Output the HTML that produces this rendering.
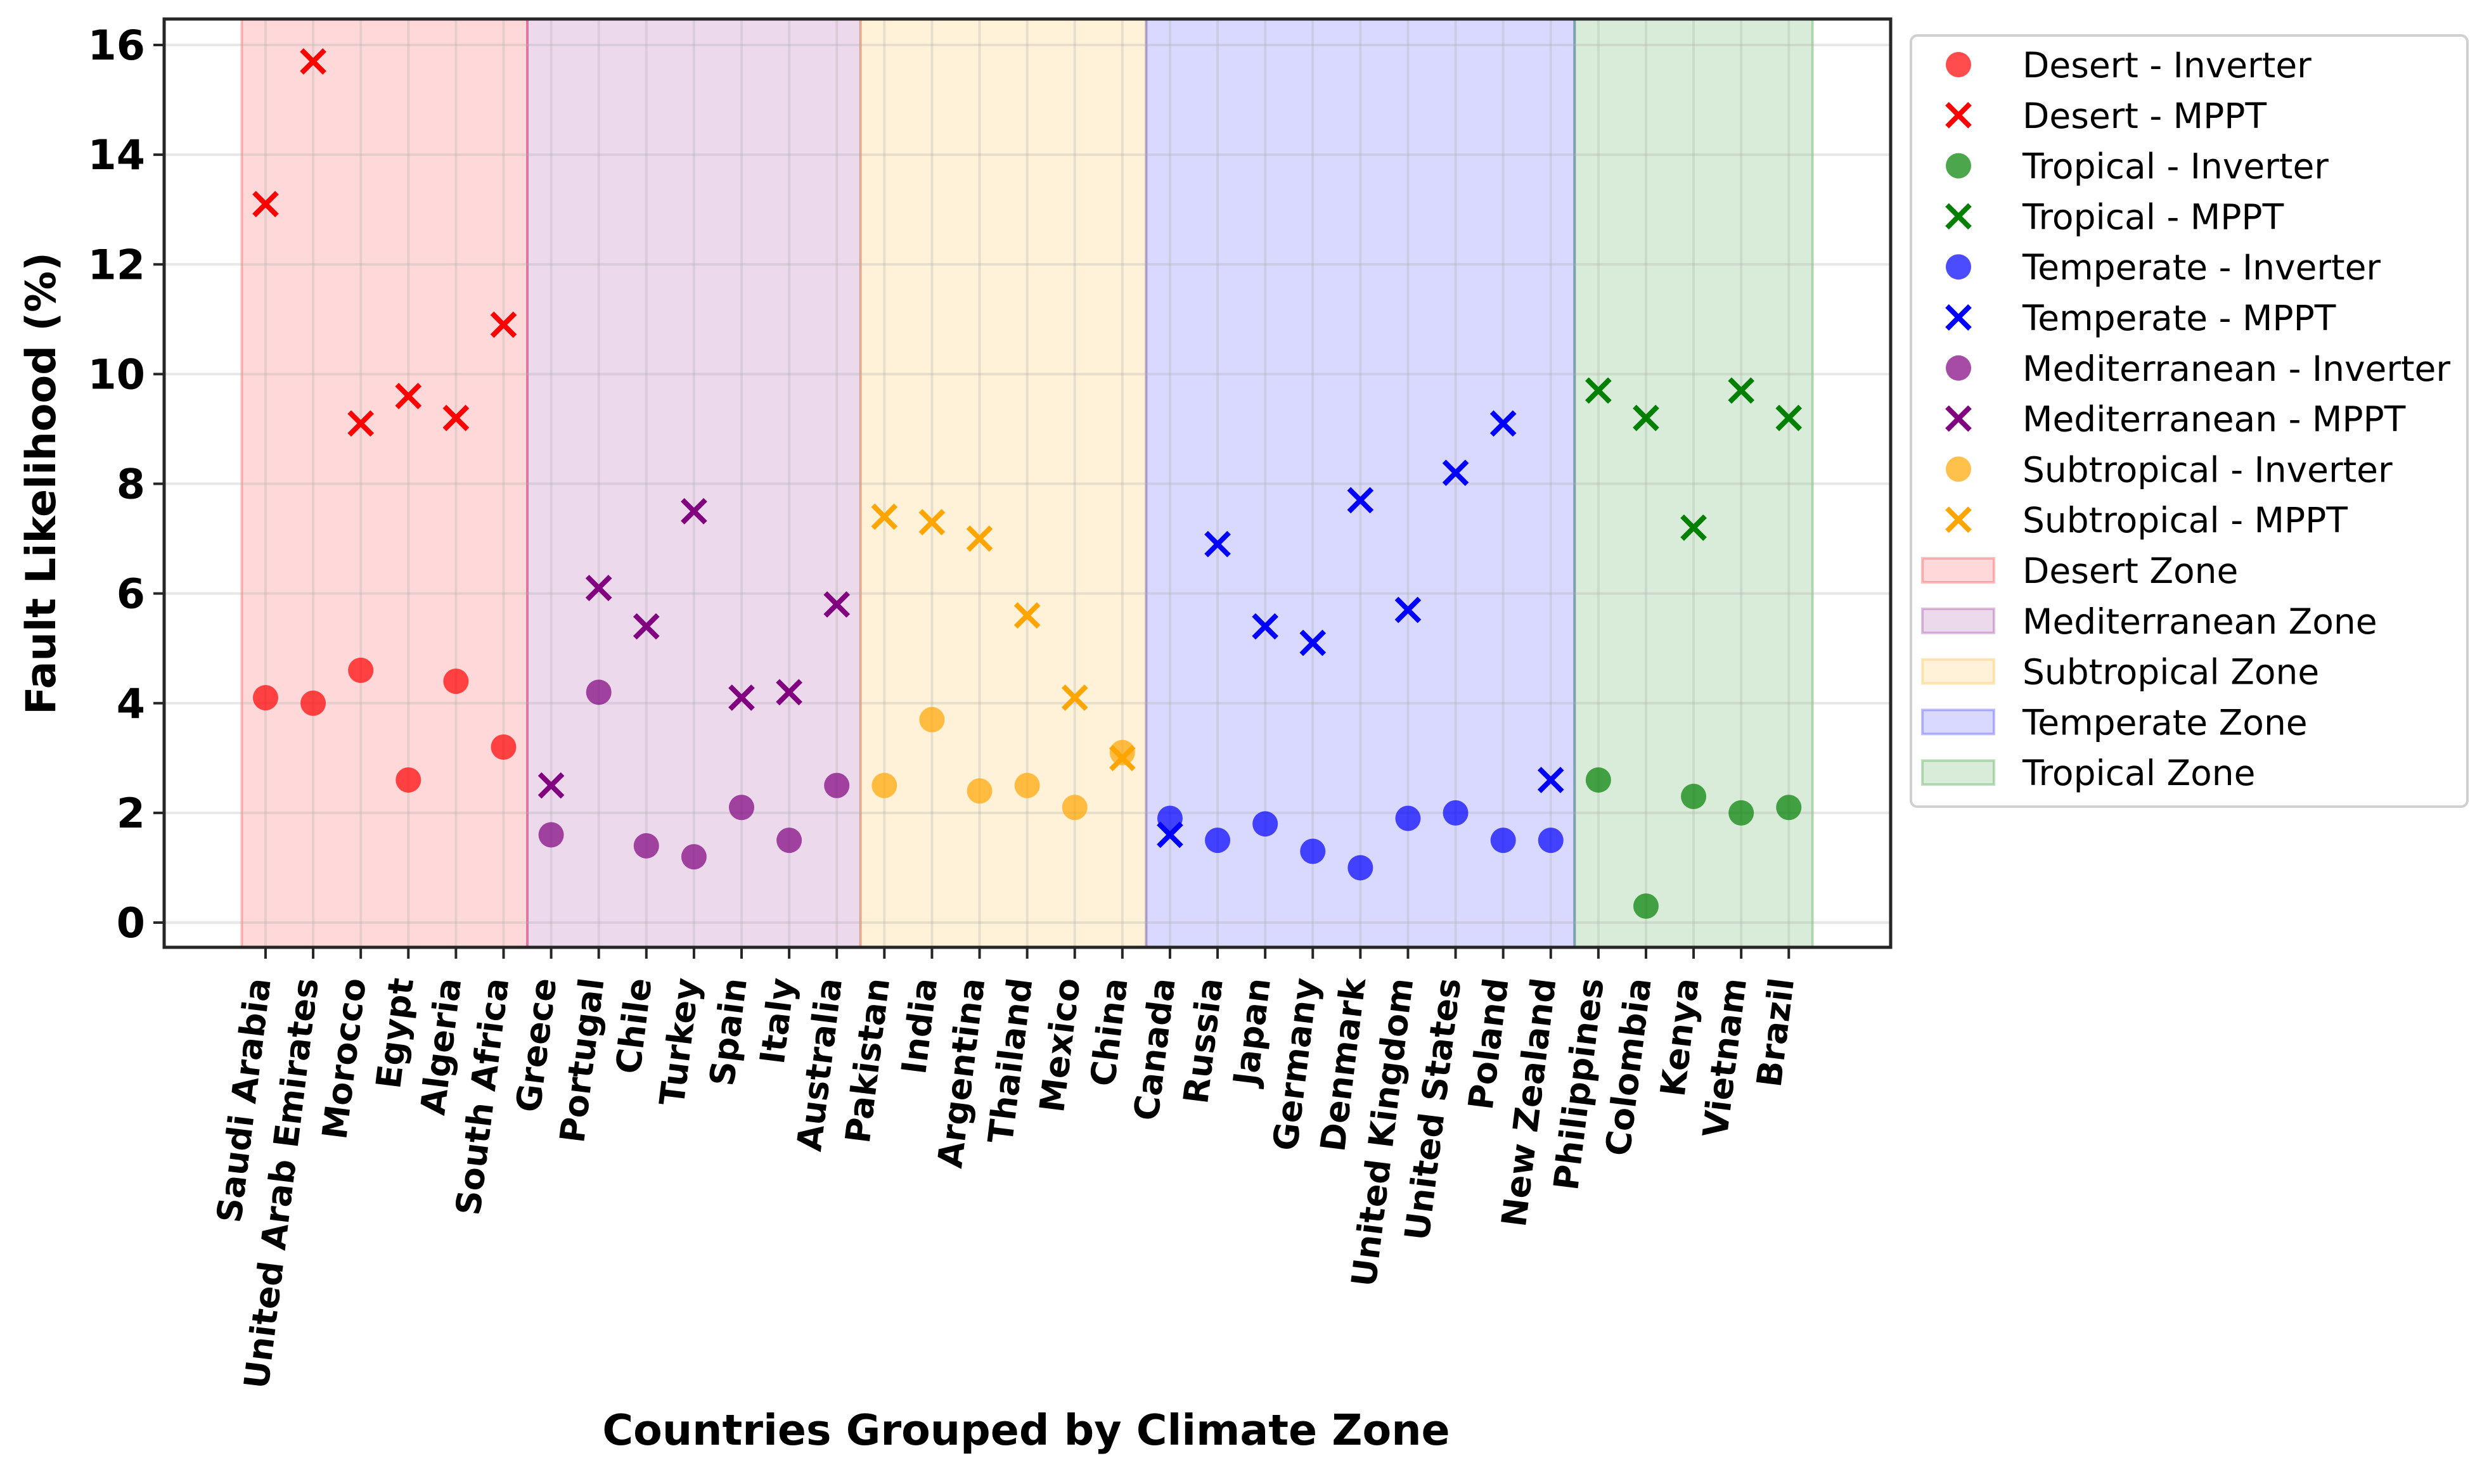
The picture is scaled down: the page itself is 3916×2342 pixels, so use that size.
<!DOCTYPE html>
<html><head><meta charset="utf-8">
<style>
html,body{margin:0;padding:0;background:#fff;}
svg{display:block;font-family:"DejaVu Sans","Liberation Sans",sans-serif;}
</style></head>
<body>
<svg id="chart" xmlns="http://www.w3.org/2000/svg" width="3916" height="2342" viewBox="0 0 3916 2342">
<rect x="0" y="0" width="3916" height="2342" fill="#fff"/>
<g id="spans"></g><g id="grid"></g><g id="marks"></g><g id="axes"></g><g id="legend"></g>
</svg>
<script>
const countries = ["Saudi Arabia","United Arab Emirates","Morocco","Egypt","Algeria","South Africa","Greece","Portugal","Chile","Turkey","Spain","Italy","Australia","Pakistan","India","Argentina","Thailand","Mexico","China","Canada","Russia","Japan","Germany","Denmark","United Kingdom","United States","Poland","New Zealand","Philippines","Colombia","Kenya","Vietnam","Brazil"];
const zoneNames = ["Desert","Mediterranean","Subtropical","Temperate","Tropical"];
const zoneCounts = [6,7,6,9,5];
const desertInverter = [4.1,4.0,4.6,2.6,4.4,3.2];
const desertMppt = [13.1,15.7,9.1,9.6,9.2,10.9];
const medInverter = [1.6,4.2,1.4,1.2,2.1,1.5,2.5];
const medMppt = [2.5,6.1,5.4,7.5,4.1,4.2,5.8];
const subInverter = [2.5,3.7,2.4,2.5,2.1,3.1];
const subMppt = [7.4,7.3,7.0,5.6,4.1,3.0];
const tempInverter = [1.9,1.5,1.8,1.3,1.0,1.9,2.0,1.5,1.5];
const tempMppt = [1.6,6.9,5.4,5.1,7.7,5.7,8.2,9.1,2.6];
const tropInverter = [2.6,0.3,2.3,2.0,2.1];
const tropMppt = [9.7,9.2,7.2,9.7,9.2];
const yTicks = [0,2,4,6,8,10,12,14,16];

const NS="http://www.w3.org/2000/svg";
const L=259,R=2983,T=30,B=1495;
const xMin=-2.13,xMax=34.14;
function xs(i){return L+(i-xMin)/(xMax-xMin)*(R-L);}
function ys(v){return 1456-(v-0)*(1456-71)/16;}
function mk(tag,attrs,parent){const e=document.createElementNS(NS,tag);for(const k in attrs)e.setAttribute(k,attrs[k]);parent.appendChild(e);return e;}
const colors={Desert:"#ff0000",Mediterranean:"#800080",Subtropical:"#ffa500",Temperate:"#0000ff",Tropical:"#008000"};
const gS=document.getElementById('spans'),gG=document.getElementById('grid'),gM=document.getElementById('marks'),gA=document.getElementById('axes'),gL=document.getElementById('legend');

let start=0;
zoneNames.forEach((z,k)=>{
  const x0=xs(start-0.5),x1=xs(start+zoneCounts[k]-0.5);
  const r=mk('rect',{x:x0,y:T,width:x1-x0,height:B-T,fill:colors[z],'fill-opacity':0.15,stroke:colors[z],'stroke-opacity':0.25,'stroke-width':4},gS);
  
  
  start+=zoneCounts[k];
});
countries.forEach((c,i)=>{mk('line',{x1:xs(i),x2:xs(i),y1:T,y2:B,stroke:'#b0b0b0','stroke-opacity':0.3,'stroke-width':4},gG);});
yTicks.forEach(v=>{mk('line',{x1:L,x2:R,y1:ys(v),y2:ys(v),stroke:'#b0b0b0','stroke-opacity':0.3,'stroke-width':4},gG);});

function circle(x,y,col,parent){return mk('circle',{cx:x,cy:y,r:20,fill:col,'fill-opacity':0.7},parent);}
function cross(x,y,col,parent){const g=mk('g',{},parent);const d=18;
  mk('path',{d:`M${x-d},${y-d}L${x+d},${y+d}M${x-d},${y+d}L${x+d},${y-d}`,stroke:col,'stroke-width':8,fill:'none'},g);return g;}
const series=[["Desert",desertInverter,desertMppt,0],["Mediterranean",medInverter,medMppt,6],["Subtropical",subInverter,subMppt,13],["Temperate",tempInverter,tempMppt,19],["Tropical",tropInverter,tropMppt,28]];
series.forEach(([z,inv,mp,off])=>{
  inv.forEach((v,j)=>{const e=circle(xs(off+j),ys(v),colors[z],gM);
    
    });
  mp.forEach((v,j)=>{const e=cross(xs(off+j),ys(v),colors[z],gM);
    
    });
});
const fr=mk('rect',{x:L,y:T,width:R-L,height:B-T,fill:'none',stroke:'#262626','stroke-width':5},gA);


yTicks.forEach(v=>{
  mk('line',{x1:L-17,x2:L,y1:ys(v),y2:ys(v),stroke:'#262626','stroke-width':4},gA);
  const t=mk('text',{x:L-30,y:ys(v)+23,'text-anchor':'end','font-size':65,'font-weight':'bold',fill:'#000'},gA);
  t.textContent=v;
  
  
});
countries.forEach((c,i)=>{
  const x=xs(i);
  mk('line',{x1:x,x2:x,y1:B,y2:B+18,stroke:'#262626','stroke-width':4},gA);
  const t=mk('text',{transform:`translate(${x+8},1546) rotate(-83)`,'text-anchor':'end','font-size':54,'font-weight':'bold',fill:'#000'},gA);
  t.textContent=c;
  
  
});
const yt=mk('text',{transform:'translate(87,763) rotate(-90)','text-anchor':'middle','font-size':65,'font-weight':'bold',fill:'#000'},gA);
yt.textContent='Fault Likelihood (%)';


const xt=mk('text',{x:1619,y:2280,'text-anchor':'middle','font-size':66.5,'font-weight':'bold',fill:'#000'},gA);
xt.textContent='Countries Grouped by Climate Zone';



const lb=mk('rect',{x:3015,y:56,width:878,height:1217,rx:10,fill:'#fff','fill-opacity':0.8,stroke:'#d0d0d0','stroke-width':4},gL);


const legItems=[];
["Desert","Tropical","Temperate","Mediterranean","Subtropical"].forEach(z=>{legItems.push([z+" - Inverter",'c',colors[z]]);legItems.push([z+" - MPPT",'x',colors[z]]);});
zoneNames.forEach(z=>legItems.push([z+" Zone",'p',colors[z]]));
legItems.forEach(([label,type,col],k)=>{
  const y=102+k*79.8;
  const g=mk('g',{},gL);
  
  
  if(type==='c')circle(3090,y,col,g);
  else if(type==='x')cross(3090,y,col,g);
  else mk('rect',{x:3033,y:y-19,width:113,height:38,fill:col,'fill-opacity':0.15,stroke:col,'stroke-opacity':0.25,'stroke-width':4},g);
  const t=mk('text',{x:3191,y:y+20,'font-size':55,fill:'#000'},g);
  t.textContent=label;
});
</script>
</body></html>
